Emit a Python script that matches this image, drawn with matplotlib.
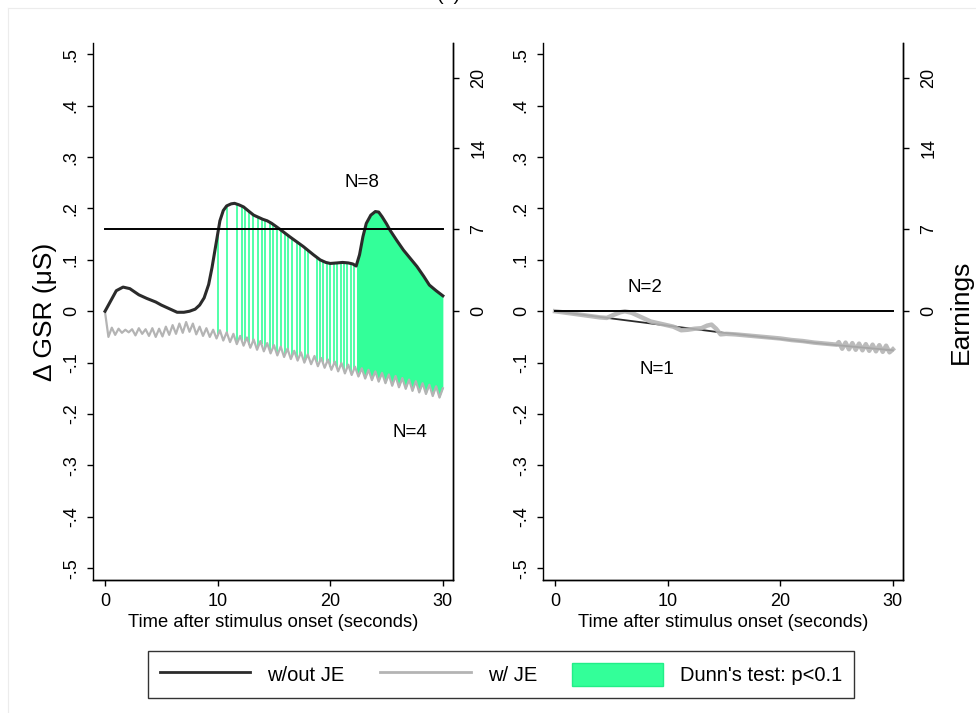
import numpy as np
import matplotlib
matplotlib.use("Agg")
import matplotlib.pyplot as plt
from matplotlib.lines import Line2D
from matplotlib.patches import Patch

plt.rcParams['font.family'] = ['Liberation Sans', 'DejaVu Sans']

# ---- GSR response, no joint-earnings group (N=8) ----
t_black = [0, 0.5, 1.0, 1.6, 2.2, 3.0, 3.7, 4.5, 5.0, 5.7, 6.4, 7.0, 7.5, 8.0, 8.4,
           8.8, 9.2, 9.5, 9.8, 10.0, 10.2, 10.5, 10.8, 11.2, 11.5, 11.9, 12.3, 12.8,
           13.2, 13.6, 14.0, 14.4, 14.8, 15.5, 16.4, 17.6, 18.5, 19.1, 19.6, 20.0,
           20.6, 21.1, 21.6, 22.0, 22.3, 22.6, 22.9, 23.2, 23.6, 24.0, 24.3, 24.6,
           25.0, 25.3, 25.9, 26.5, 27.1, 27.7, 28.3, 28.8, 29.4, 30.0]
gsr_black = [0.0, 0.020, 0.040, 0.047, 0.044, 0.032, 0.025, 0.018, 0.012, 0.005,
             -0.002, -0.002, 0.0, 0.004, 0.012, 0.026, 0.052, 0.085, 0.124, 0.150,
             0.176, 0.196, 0.205, 0.209, 0.210, 0.207, 0.203, 0.194, 0.187, 0.183,
             0.179, 0.176, 0.171, 0.160, 0.145, 0.126, 0.110, 0.100, 0.095, 0.093,
             0.094, 0.095, 0.094, 0.092, 0.088, 0.110, 0.145, 0.171, 0.187, 0.194,
             0.193, 0.184, 0.170, 0.158, 0.138, 0.119, 0.103, 0.087, 0.068, 0.051,
             0.040, 0.030]

# ---- GSR response, joint-earnings group (N=4), sampled every 0.3 s ----
t_gray = [round(0.3 * i, 1) for i in range(101)]
gsr_gray = [-0.002, -0.050, -0.032, -0.046, -0.034, -0.042, -0.036, -0.041, -0.035, -0.047,
            -0.033, -0.044, -0.035, -0.048, -0.033, -0.050, -0.034, -0.049, -0.030, -0.046,
            -0.027, -0.044, -0.024, -0.042, -0.021, -0.040, -0.024, -0.045, -0.030, -0.048,
            -0.033, -0.050, -0.036, -0.053, -0.037, -0.057, -0.041, -0.060, -0.044, -0.064,
            -0.048, -0.067, -0.051, -0.071, -0.055, -0.075, -0.058, -0.078, -0.062, -0.082,
            -0.066, -0.086, -0.069, -0.089, -0.073, -0.093, -0.077, -0.096, -0.080, -0.100,
            -0.084, -0.103, -0.087, -0.107, -0.091, -0.110, -0.094, -0.114, -0.098, -0.117,
            -0.101, -0.121, -0.104, -0.124, -0.108, -0.127, -0.111, -0.131, -0.114, -0.134,
            -0.117, -0.137, -0.120, -0.140, -0.123, -0.145, -0.126, -0.148, -0.130, -0.151,
            -0.133, -0.155, -0.136, -0.158, -0.140, -0.161, -0.143, -0.165, -0.146, -0.168,
            -0.150]

# time points where Dunn's test gives p<0.1 (isolated samples, then a solid run)
sig_times = [10.06, 10.86, 11.68, 12.13, 12.42, 12.81, 13.16, 13.61, 13.90, 14.20,
             14.64, 14.88, 15.23, 15.59, 15.97, 16.27, 16.56, 17.01, 17.30, 17.75,
             18.04, 18.78, 19.08, 19.37, 19.73, 20.02, 20.32, 20.61, 20.91, 21.21,
             21.50, 21.80, 22.09]
sig_run = (22.33, 30.0)

# ---- second panel: N=1 without, N=2 with joint earnings ----
t_black_r = [0, 5, 10, 15, 20, 25, 30]
gsr_black_r = [0.0, -0.014, -0.028, -0.042, -0.054, -0.066, -0.076]
t_gray_r = [0, 1, 2, 3, 4, 4.6, 5.2, 5.8, 6.2, 6.8, 7.5, 8.5, 9.5, 10.5, 11.2, 11.8,
            12.4, 13.0, 13.5, 13.9, 14.3, 14.7, 15.2, 16, 17, 18, 19, 20, 21, 22, 23,
            24, 25.0, 25.2, 25.5, 25.8, 26.1, 26.4, 26.7, 27.0, 27.3, 27.6, 27.9, 28.2,
            28.5, 28.8, 29.1, 29.4, 29.7, 30.0]
gsr_gray_r = [0.0, -0.003, -0.006, -0.009, -0.012, -0.013, -0.007, -0.002, 0.000, -0.003,
              -0.010, -0.020, -0.025, -0.030, -0.037, -0.036, -0.034, -0.033, -0.028, -0.026,
              -0.034, -0.045, -0.044, -0.045, -0.047, -0.049, -0.051, -0.053, -0.056, -0.058,
              -0.061, -0.063, -0.065, -0.060, -0.073, -0.061, -0.074, -0.062, -0.075, -0.063,
              -0.076, -0.064, -0.077, -0.065, -0.078, -0.066, -0.079, -0.067, -0.080, -0.074]

earnings_line = [7, 0]
n_labels = [[("N=8", 22.8, 0.250), ("N=4", 27.1, -0.236)],
            [("N=2", 8.0, 0.047), ("N=1", 9.0, -0.113)]]

gsr_ticks = [-0.5, -0.4, -0.3, -0.2, -0.1, 0.0, 0.1, 0.2, 0.3, 0.4, 0.5]
gsr_ticklabels = ["-.5", "-.4", "-.3", "-.2", "-.1", "0", ".1", ".2", ".3", ".4", ".5"]
earn_ticks = [0, 7, 14, 20]
time_ticks = [0, 10, 20, 30]

BLACK = '#2b2b2b'
GRAY = '#b4b4b4'
GREEN = '#33ff99'
GSR_LIM = (-0.523, 0.522)
EARN_PER_GSR = 44.0

W, H = 976, 713
fig = plt.figure(figsize=(W / 100, H / 100), dpi=100)

# faint outer graph-region border
fig.add_artist(Line2D([8 / W, 8 / W], [0, 1 - 8 / H], transform=fig.transFigure,
                      color='#ececec', lw=0.8))
fig.add_artist(Line2D([8 / W, 1], [1 - 8 / H, 1 - 8 / H], transform=fig.transFigure,
                      color='#ececec', lw=0.8))
fig.text(449 / W, 1.0, "(a)", ha='center', va='baseline', fontsize=14)


def style_axes(ax):
    ax.spines['top'].set_visible(False)
    for s in ('left', 'right', 'bottom'):
        ax.spines[s].set_linewidth(1.0)
    ax.tick_params(direction='out', length=4.5, width=1.0, labelsize=13)


axes = []
for k, x0 in enumerate([93, 543]):
    ax = fig.add_axes([x0 / W, 1 - 580 / H, 360 / W, 537 / H])
    style_axes(ax)
    ax.set_xlim(-1.07, 30.9)
    ax.set_ylim(*GSR_LIM)
    ax.set_xticks(time_ticks)
    ax.set_yticks(gsr_ticks)
    ax.set_yticklabels(gsr_ticklabels, rotation=90, va='center')
    ax.tick_params(axis='y', pad=5)
    ax.tick_params(axis='x', pad=5)
    ax.set_xlabel("Time after stimulus onset (seconds)", fontsize=13.2, labelpad=3)

    ax2 = ax.twinx()
    style_axes(ax2)
    ax2.spines['left'].set_visible(False)
    ax2.set_ylim(GSR_LIM[0] * EARN_PER_GSR, GSR_LIM[1] * EARN_PER_GSR)
    ax2.set_yticks(earn_ticks)
    ax2.set_yticklabels([str(v) for v in earn_ticks], rotation=90, va='center')
    ax2.tick_params(axis='y', pad=8)
    ax2.plot([0, 30], [earnings_line[k]] * 2, color='black', lw=1.4, zorder=3)
    axes.append((ax, ax2))

# left panel
ax, ax2 = axes[0]
ax.set_ylabel("\u0394 GSR (\u03bcS)", fontsize=19, labelpad=4)
gb = np.interp(sig_times, t_black, gsr_black)
gg = np.interp(sig_times, t_gray, gsr_gray)
ax.vlines(sig_times, gg, gb, color=GREEN, lw=1.2, zorder=1)
run_t = [t for t in t_gray if sig_run[0] <= t <= sig_run[1]]
run_t = [sig_run[0]] + run_t
ax.fill_between(run_t, np.interp(run_t, t_gray, gsr_gray),
                np.interp(run_t, t_black, gsr_black), color=GREEN, lw=0, zorder=1)
ax.plot(t_gray, gsr_gray, color=GRAY, lw=1.6, zorder=2)
ax.plot(t_black, gsr_black, color=BLACK, lw=2.2, zorder=4)
for txt, x, y in n_labels[0]:
    ax.text(x, y, txt, ha='center', va='center', fontsize=13.5)

# right panel
ax, ax2 = axes[1]
ax.plot(t_black_r, gsr_black_r, color=BLACK, lw=1.3, zorder=2)
ax.plot(t_gray_r, gsr_gray_r, color=GRAY, lw=3.2, alpha=0.9, zorder=3)
for txt, x, y in n_labels[1]:
    ax.text(x, y, txt, ha='center', va='center', fontsize=13.5)
ax2.set_ylabel("Earnings", fontsize=19, labelpad=8)

handles = [Line2D([], [], color=BLACK, lw=2),
           Line2D([], [], color=GRAY, lw=2),
           Patch(facecolor=GREEN, edgecolor='#22ee88')]
fig.legend(handles, ["w/out JE", "w/ JE", "Dunn's test: p<0.1"], ncol=3,
           loc='center', bbox_to_anchor=(501 / W, 1 - 674.5 / H), fontsize=14.5,
           frameon=True, fancybox=False, edgecolor='black', handlelength=4.5,
           handleheight=1.35, columnspacing=1.75, handletextpad=0.85, borderpad=0.6)

fig.savefig("out.png", dpi=100)
